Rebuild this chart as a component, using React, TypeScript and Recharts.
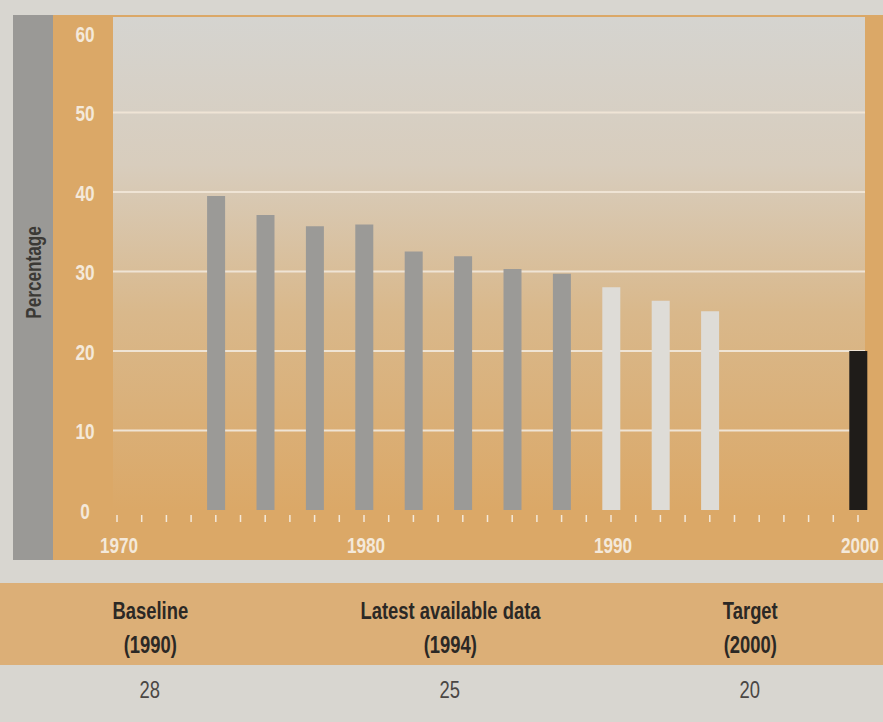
import React from 'react';
import { BarChart, Bar, Cell, XAxis, YAxis, CartesianGrid, Label } from 'recharts';

// Survey years and the share (%) for each one
const years = [1974, 1976, 1978, 1980, 1982, 1984, 1986, 1988, 1990, 1992, 1994, 2000];
const rates = [39.5, 37.1, 35.7, 35.9, 32.5, 31.9, 30.3, 29.7, 28, 26.3, 25, 20];
const periods = ['trend', 'trend', 'trend', 'trend', 'trend', 'trend', 'trend', 'trend', 'recent', 'recent', 'recent', 'target'];

const yTicks = [0, 10, 20, 30, 40, 50, 60];
const gridValues = [10, 20, 30, 40, 50];
const yearTicks = Array.from({ length: 31 }, (_, i) => 1970 + i);
const decadeLabels = [1970, 1980, 1990, 2000];

const summaryHeads = ['Baseline', 'Latest available data', 'Target'];
const summaryYears = [1990, 1994, 2000];

const barColors: Record<string, string> = {
  trend: '#9b9a97',
  recent: '#dedcd7',
  target: '#1f1c19',
};

const FONT = "'Liberation Sans', Arial, sans-serif";
const TICK_FILL = '#f4e9da';
// no narrow face installed, so squeeze glyphs horizontally
const SQUEEZE = 0.78;

const chartData = years.map((year, i) => ({ year, rate: rates[i], period: periods[i] }));

function Narrow({ x, y, children, fill, size, weight = 700, anchor = 'middle' }: any) {
  return (
    <text
      transform={`translate(${x},${y}) scale(${SQUEEZE},1)`}
      textAnchor={anchor}
      fill={fill}
      fontFamily={FONT}
      fontWeight={weight}
      fontSize={size}
    >
      {children}
    </text>
  );
}

function YearTick(props: any) {
  const { x, y, payload } = props;
  const showLabel = decadeLabels.includes(payload.value);
  return (
    <g>
      <line x1={x} x2={x} y1={y + 5} y2={y + 12} stroke={TICK_FILL} strokeWidth={1.5} />
      {showLabel && (
        <Narrow x={x + 2} y={y + 43} fill={TICK_FILL} size={22}>
          {payload.value}
        </Narrow>
      )}
    </g>
  );
}

function PercentTick(props: any) {
  const { x, y, payload } = props;
  return (
    <Narrow x={x - 28} y={y + 9} fill={TICK_FILL} size={22}>
      {payload.value}
    </Narrow>
  );
}

function SideTitle(props: any) {
  const { viewBox } = props;
  const cx = viewBox.x + 20;
  const cy = viewBox.y + viewBox.height / 2 + 9;
  return (
    <text
      transform={`translate(${cx},${cy}) rotate(-90) scale(${SQUEEZE},1)`}
      textAnchor="middle"
      dominantBaseline="central"
      fill="#3b3935"
      fontFamily={FONT}
      fontWeight={700}
      fontSize={22}
    >
      Percentage
    </text>
  );
}

const squeezed: React.CSSProperties = {
  display: 'inline-block',
  transform: 'scaleX(0.8)',
  whiteSpace: 'nowrap',
};

const column: React.CSSProperties = { flex: '0 0 300px', width: 300, textAlign: 'center' };

export default function App() {
  const valueFor = (yr: number) => rates[years.indexOf(yr)];

  return (
    <div
      style={{
        position: 'absolute',
        left: 0,
        top: 0,
        width: 883,
        height: 722,
        overflow: 'hidden',
        background: '#d8d6d0',
        fontFamily: FONT,
      }}
    >
      <div
        style={{
          position: 'absolute',
          left: 13,
          top: 15,
          width: 870,
          height: 545,
          background: 'linear-gradient(to right, #9a9996 0px, #9a9996 40px, #dba867 40px)',
        }}
      >
        <BarChart
          width={870}
          height={545}
          data={chartData}
          margin={{ top: 2, right: 18, bottom: 20, left: 0 }}
          barSize={18}
        >
          <defs>
            <linearGradient id="plotBg" x1="0" y1="0" x2="0" y2="1">
              <stop offset="0%" stopColor="#d5d4d0" />
              <stop offset="30%" stopColor="#d8cdbd" />
              <stop offset="60%" stopColor="#d9b88b" />
              <stop offset="100%" stopColor="#dba867" />
            </linearGradient>
          </defs>
          <CartesianGrid
            vertical={false}
            horizontalValues={gridValues}
            stroke="#efe4d5"
            strokeWidth={2}
            fill="url(#plotBg)"
            fillOpacity={1}
          />
          <XAxis
            dataKey="year"
            type="number"
            domain={[1970, 2000]}
            ticks={yearTicks}
            interval={0}
            padding={{ left: 4, right: 7 }}
            height={30}
            axisLine={false}
            tickLine={false}
            tickSize={0}
            tickMargin={0}
            tick={<YearTick />}
          />
          <YAxis
            domain={[0, 62]}
            ticks={yTicks}
            width={100}
            axisLine={false}
            tickLine={false}
            tickSize={0}
            tickMargin={0}
            tick={<PercentTick />}
          >
            <Label content={<SideTitle />} />
          </YAxis>
          <Bar dataKey="rate" isAnimationActive={false}>
            {chartData.map((d) => (
              <Cell key={d.year} fill={barColors[d.period]} />
            ))}
          </Bar>
        </BarChart>
      </div>

      {/* summary table under the chart */}
      <div
        style={{
          position: 'absolute',
          left: 0,
          top: 583,
          width: 883,
          height: 82,
          background: '#dcaf77',
          display: 'flex',
          color: '#2b2825',
          fontWeight: 700,
          fontSize: 23,
          lineHeight: '34px',
          paddingTop: 11,
          boxSizing: 'border-box',
        }}
      >
        {summaryHeads.map((h, i) => (
          <div key={h} style={column}>
            <div>
              <span style={squeezed}>{h}</span>
            </div>
            <div>
              <span style={squeezed}>({summaryYears[i]})</span>
            </div>
          </div>
        ))}
      </div>
      <div
        style={{
          position: 'absolute',
          left: 0,
          top: 676,
          width: 883,
          display: 'flex',
          color: '#4a4744',
          fontSize: 23,
          lineHeight: '28px',
        }}
      >
        {summaryYears.map((yr) => (
          <div key={yr} style={column}>
            <span style={squeezed}>{valueFor(yr)}</span>
          </div>
        ))}
      </div>
    </div>
  );
}
